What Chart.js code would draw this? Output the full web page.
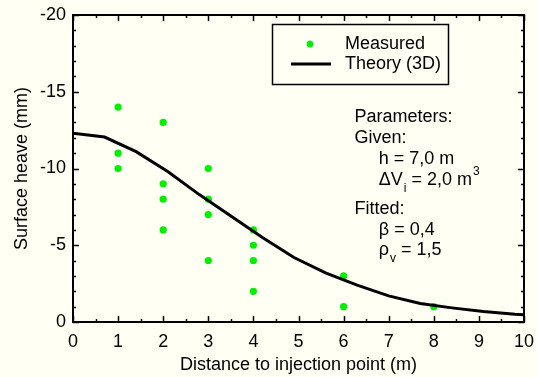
<!DOCTYPE html>
<html>
<head>
<meta charset="utf-8">
<script src="https://cdn.jsdelivr.net/npm/chart.js@4.4.1/dist/chart.umd.min.js"></script>
<style>
  html, body { margin: 0; padding: 0; background: #fffff4; }
  #wrap { width: 537px; height: 377px; }
</style>
</head>
<body>
<div id="wrap"><canvas id="heaveChart" width="537" height="377"></canvas></div>
<script>
// measured heave (mm)
const measuredX = [1, 1, 1, 2, 2, 2, 2, 3, 3, 3, 3, 4, 4, 4, 4, 6, 6, 8];
const measuredY = [-14, -11, -10, -13, -9, -8, -6, -10, -8, -7, -4, -6, -5, -4, -2, -3, -1, -1];

// theory curve (3D)
const theoryX = [0, 0.7, 1.4, 2.1, 2.8, 3.5, 4.2, 4.9, 5.6, 6.3, 7.0, 7.7, 8.4, 9.1, 9.8, 10];
const theoryY = [-12.3, -12.05, -11.1, -9.8, -8.3, -6.9, -5.5, -4.2, -3.2, -2.4, -1.7, -1.2, -0.92, -0.68, -0.5, -0.48];

const xTicks = [0, 1, 2, 3, 4, 5, 6, 7, 8, 9, 10];
const yTicks = [-20, -15, -10, -5, 0];

const green = '#00f000';
const FONT = '"Liberation Sans", Arial, sans-serif';

// parameter note, anchored in data units
const notes = [
  { x: 6.24, y: -13.36, parts: [['Parameters:']] },
  { x: 6.24, y: -11.99, parts: [['Given:']] },
  { x: 6.78, y: -10.62, parts: [['h = 7,0 m']] },
  { x: 6.78, y: -9.25, parts: [['\u0394V'], ['i', 'sub'], [' = 2,0 m'], ['3', 'sup']] },
  { x: 6.24, y: -7.36, parts: [['Fitted:']] },
  { x: 6.78, y: -5.99, parts: [['\u03b2 = 0,4']] },
  { x: 6.78, y: -4.69, parts: [['\u03c1'], ['v', 'sub'], [' = 1,5']] }
];

// frame + inward ticks on all four sides
const frameTicks = {
  id: 'frameTicks',
  afterDraw(chart) {
    const { ctx, chartArea: a, scales: { x, y } } = chart;
    ctx.save();
    ctx.strokeStyle = '#000';
    ctx.lineWidth = 1.5;
    for (let v = 0; v <= 10; v += 0.5) {
      const px = Math.round(x.getPixelForValue(v)) + 0.5;
      const len = Number.isInteger(v) ? 6 : 3;
      ctx.beginPath();
      ctx.moveTo(px, a.bottom); ctx.lineTo(px, a.bottom - len);
      ctx.moveTo(px, a.top); ctx.lineTo(px, a.top + len);
      ctx.stroke();
    }
    for (let v = -20; v <= 0; v += 1) {
      const py = Math.round(y.getPixelForValue(v)) + 0.5;
      const len = v % 5 === 0 ? 6 : 3;
      ctx.beginPath();
      ctx.moveTo(a.left, py); ctx.lineTo(a.left + len, py);
      ctx.moveTo(a.right, py); ctx.lineTo(a.right - len, py);
      ctx.stroke();
    }
    ctx.lineWidth = 2;
    ctx.strokeRect(a.left, a.top, a.right - a.left, a.bottom - a.top);
    ctx.restore();
  }
};

// legend box + parameter text
const extras = {
  id: 'extras',
  afterDraw(chart) {
    const { ctx, scales: { x, y } } = chart;
    ctx.save();
    ctx.fillStyle = '#fffff4';
    ctx.fillRect(272, 24, 176, 60);
    ctx.strokeStyle = '#000';
    ctx.lineWidth = 1.5;
    ctx.strokeRect(272.5, 24.5, 176, 60);
    ctx.fillStyle = green;
    ctx.beginPath();
    ctx.ellipse(310, 44, 3.3, 3.6, 0, 0, Math.PI * 2);
    ctx.fill();
    ctx.lineWidth = 3;
    ctx.beginPath();
    ctx.moveTo(291, 64); ctx.lineTo(331, 64);
    ctx.stroke();
    ctx.fillStyle = '#000';
    ctx.font = '18px ' + FONT;
    ctx.textBaseline = 'middle';
    ctx.fillText('Measured', 345, 44);
    ctx.fillText('Theory (3D)', 345, 64);

    notes.forEach(n => {
      let px = x.getPixelForValue(n.x);
      const py = y.getPixelForValue(n.y);
      n.parts.forEach(([t, kind]) => {
        if (kind === 'sub') {
          ctx.font = '12px ' + FONT;
          ctx.fillText(t, px + 1, py + 9);
          px += ctx.measureText(t).width + 1;
        } else if (kind === 'sup') {
          ctx.font = '12px ' + FONT;
          ctx.fillText(t, px + 1, py - 8);
          px += ctx.measureText(t).width + 1;
        } else {
          ctx.font = '18px ' + FONT;
          ctx.fillText(t, px, py);
          px += ctx.measureText(t).width;
        }
      });
    });
    ctx.restore();
  }
};

const bg = {
  id: 'bg',
  beforeDraw(chart) {
    const { ctx, width, height } = chart;
    ctx.save();
    ctx.fillStyle = '#fffff4';
    ctx.fillRect(0, 0, width, height);
    ctx.restore();
  }
};

Chart.defaults.font.family = FONT;
Chart.defaults.font.size = 18;
Chart.defaults.color = '#000';

const ctx = document.getElementById('heaveChart').getContext('2d');
const heaveChart = new Chart(ctx, {
  type: 'scatter',
  data: {
    datasets: [
      {
        label: 'Measured',
        data: measuredX.map((v, i) => ({ x: v, y: measuredY[i] })),
        backgroundColor: green,
        borderColor: green,
        pointRadius: 3.6,
        pointBorderWidth: 0,
        order: 2
      },
      {
        label: 'Theory (3D)',
        type: 'line',
        data: theoryX.map((v, i) => ({ x: v, y: theoryY[i] })),
        borderColor: '#000',
        borderWidth: 3,
        pointRadius: 0,
        tension: 0,
        fill: false,
        order: 1
      }
    ]
  },
  options: {
    responsive: false,
    animation: false,
    layout: { padding: { top: 15, right: 13, left: 0, bottom: 0 } },
    plugins: {
      legend: { display: false },
      tooltip: { enabled: false }
    },
    scales: {
      x: {
        type: 'linear',
        min: 0,
        max: 10,
        afterFit: s => { s.height = 55; s.paddingLeft = 0; s.paddingRight = 0; },
        afterBuildTicks: s => { s.ticks = xTicks.map(v => ({ value: v })); },
        grid: { display: false, drawTicks: false },
        border: { display: false },
        ticks: { padding: 9 },
        title: { display: true, text: 'Distance to injection point (m)', padding: { top: 0, bottom: 1 } }
      },
      y: {
        type: 'linear',
        min: -20,
        max: 0,
        reverse: true,
        afterFit: s => { s.width = 73; s.paddingTop = 0; s.paddingBottom = 0; },
        afterBuildTicks: s => { s.ticks = yTicks.map(v => ({ value: v })); },
        grid: { display: false, drawTicks: false },
        border: { display: false },
        ticks: { padding: 7 },
        title: { display: true, text: 'Surface heave (mm)', padding: { top: 11, bottom: 0 } }
      }
    }
  },
  plugins: [bg, frameTicks, extras]
});
</script>
</body>
</html>
